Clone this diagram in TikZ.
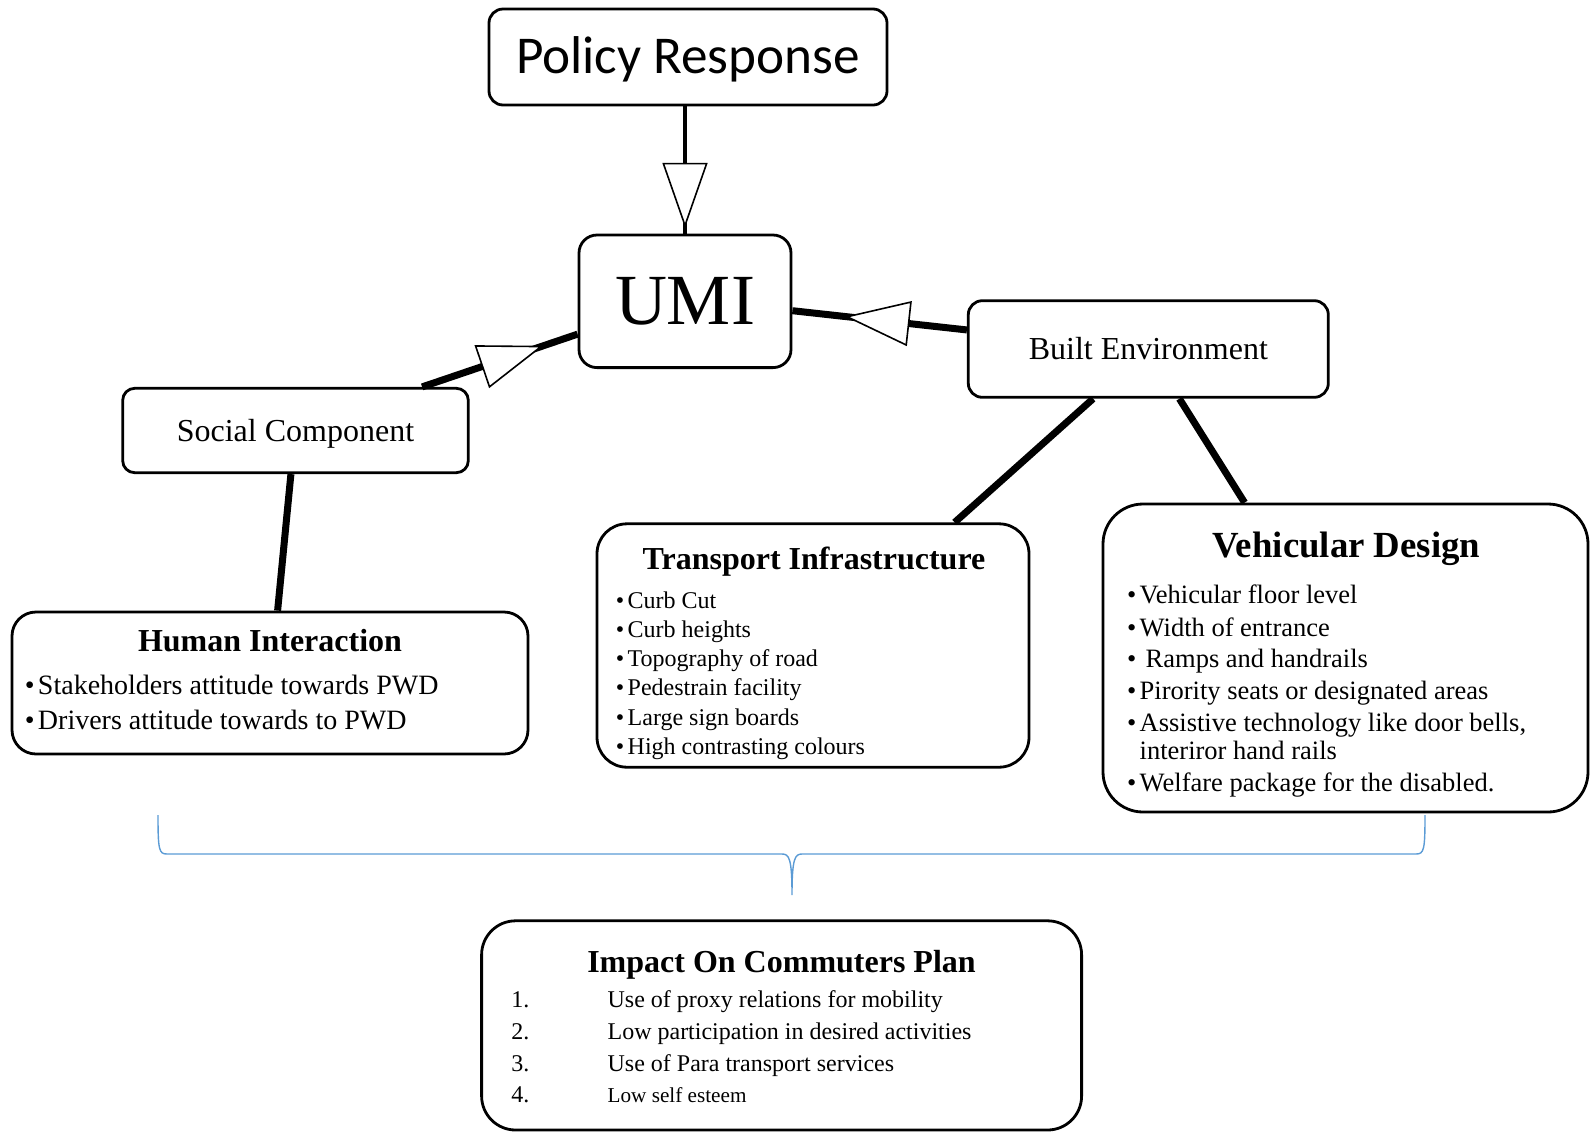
\documentclass[tikz,border=0pt]{standalone}
\usepackage{fontspec}
\setmainfont{Liberation Serif}
\newfontfamily\calibri{Carlito}
\usetikzlibrary{arrows.meta,decorations.markings}
\definecolor{braceblue}{RGB}{91,155,213}

\tikzset{
  box/.style={draw, line width=1.4pt, rounded corners=#1, inner sep=0pt},
  box/.default=7pt,
  link/.style={line width=3.5pt},
  hollow/.style={postaction={decorate}, decoration={markings,
      mark=at position #1 with {\arrow{Triangle[fill=white, line width=0.8pt, length=32.5pt, width=22.5pt]}}}},
  head/.style={font=\bfseries\fontsize{16}{18}\selectfont, anchor=base, inner sep=0pt},
  item/.style={anchor=base west, inner sep=0pt},
}

\begin{document}
\begin{tikzpicture}[x=0.5pt, y=-0.5pt]
\useasboundingbox (0,0) rectangle (1591,1131);

% upper boxes
\node[box, minimum width=199pt, minimum height=48pt, font=\calibri\fontsize{26.6}{30}\selectfont, text height=16.5pt, text depth=0pt] (policy) at (688,57) {Policy Response};
\node[box=9pt, minimum width=106pt, minimum height=66.3pt, font=\fontsize{36}{40}\selectfont, text height=22.7pt, text depth=0pt] (umi) at (685,301.3) {UMI};
\node[box, minimum width=180pt, minimum height=48.3pt, font=\fontsize{16}{19}\selectfont, text height=10pt, text depth=0pt] (be) at (1148.3,349) {Built Environment};
\node[box=6pt, minimum width=172.8pt, minimum height=42.2pt, font=\fontsize{16}{19}\selectfont, text height=10.5pt, text depth=0pt] (soc) at (295.5,430.5) {Social Component};

% lower boxes
\node[box=12pt, minimum width=258pt, minimum height=71pt] (hum) at (270,683) {};
\node[box=15pt, minimum width=216pt, minimum height=121.7pt] (tra) at (813,645.5) {};
\node[box=20pt, minimum width=242.5pt, minimum height=154pt] (veh) at (1345.5,658) {};
\node[box=17pt, minimum width=300pt, minimum height=104.6pt] (imp) at (781.6,1025.4) {};

% titles
\node[head] (humtitle) at (270,651) {Human Interaction};
\node[head] (tratitle) at (814,569.3) {Transport Infrastructure};
\node[head, font=\bfseries\fontsize{18.4}{21}\selectfont] (vehtitle) at (1346.5,557.3) {Vehicular Design};
\node[head] (imptitle) at (781.5,972.3) {Impact On Commuters Plan};

% lists
\foreach \y/\txt [count=\i] in {694/Stakeholders attitude towards PWD, 729.5/Drivers attitude towards to PWD}
  \node[item, font=\fontsize{14}{16}\selectfont] (hum\i) at (24.4,\y) {\makebox[6.6pt][l]{\textbullet}\txt};

\foreach \txt [count=\i] in {Curb Cut, Curb heights, Topography of road, Pedestrain facility, Large sign boards, High contrasting colours}
  \node[item, font=\fontsize{12}{14}\selectfont] (tra\i) at (615.5,579.1+29.2*\i) {\makebox[5.9pt][l]{\textbullet}\txt};

\foreach \y/\txt [count=\i] in {603/Vehicular floor level, 636/Width of entrance, 667.7/\hspace{3pt}Ramps and handrails, 699.3/Pirority seats or designated areas, 731.3/{Assistive technology like door bells,}, 791.3/Welfare package for the disabled.}
  \node[item, font=\fontsize{13.25}{15}\selectfont] (veh\i) at (1126.6,\y) {\makebox[6.35pt][l]{\textbullet}\txt};
\node[item, font=\fontsize{13.25}{15}\selectfont] (vehwrap) at (1126.6,759.7) {\makebox[6.35pt][l]{}interiror hand rails};

\foreach \y/\txt [count=\i] in {1007.3/Use of proxy relations for mobility, 1039/Low participation in desired activities, 1071/Use of Para transport services}
  \node[item, font=\fontsize{12}{14}\selectfont] (imp\i) at (511,\y) {\makebox[48.1pt][l]{\i.}\txt};
\node[item, font=\fontsize{10.6}{12}\selectfont] (imp4) at (511,1102) {\makebox[48.1pt][l]{\fontsize{12}{14}\selectfont 4.}Low self esteem};

% connectors
\draw[line width=2.3pt, hollow=0.955] (umi.north |- policy.south) -- (umi.north);
\draw[link, hollow=0.70] (be.174) -- (umi.-5);
\draw[link, hollow=0.78] (soc.19) -- (umi.197);
\draw[link] (soc.264) -- (hum.84);
\draw[link] (be.222) -- (tra.41);
\draw[link] (be.302) -- (veh.123);

% brace
\draw[braceblue, line width=0.7pt] (158,815) .. controls (158,850) and (159,854) .. (167,854) -- (782,854)
  .. controls (789,854) and (792,858) .. (792,895) .. controls (792,858) and (795,854) .. (802,854)
  -- (1416,854) .. controls (1424,854) and (1425,850) .. (1425,815);
\end{tikzpicture}
\end{document}
